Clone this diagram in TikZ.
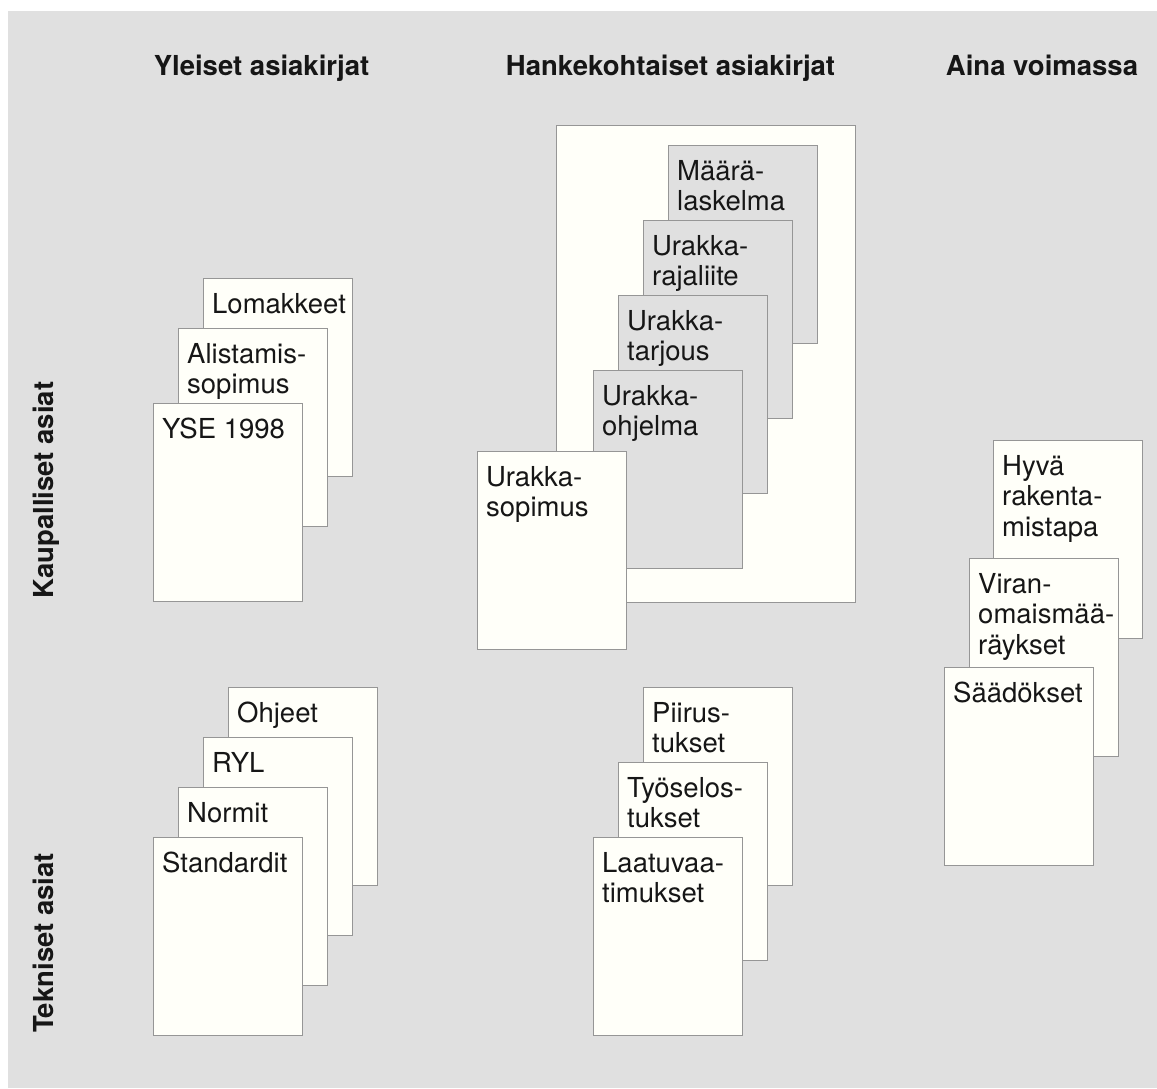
\documentclass[tikz,border=0pt]{standalone}
\usepackage{fontspec}
\setmainfont{TeX Gyre Heros}
\usepackage{xcolor}
\usepackage{tikz}
\definecolor{panel}{RGB}{224, 224, 224}
\definecolor{paper}{RGB}{255, 255, 249}
\definecolor{edge}{RGB}{150, 150, 150}
\definecolor{ink}{RGB}{22, 22, 22}

\begin{document}
\begin{tikzpicture}[x=1pt,y=-1pt,
  doc/.style={draw=edge,line width=1.2pt,fill=paper,anchor=north west,inner sep=0pt,
    minimum width=149pt,minimum height=198pt},
  graydoc/.style={doc,fill=panel},
  doclabel/.style={anchor=north west,align=left,inner xsep=9pt,inner ysep=15pt,text=ink,
    font=\fontsize{27.5}{30.5}\selectfont},
  head/.style={anchor=base,text=ink,font=\fontsize{27.5}{30}\selectfont\bfseries}]
\useasboundingbox (0,0) rectangle (1157,1088);
\fill[white] (0,0) rectangle (1157,1088);
\fill[panel] (8,11) rectangle (1157,1088);
% otsikot
\node[head] (hyleiset) at (261.5,75) {Yleiset asiakirjat};
\node[head] (hhanke) at (670.5,75) {Hankekohtaiset asiakirjat};
\node[head] (haina) at (1042,75) {Aina voimassa};
\node[head,rotate=90] (hkaup) at (53,490) {Kaupalliset asiat};
\node[head,rotate=90] (htekn) at (53,943) {Tekniset asiat};
% yleiset, kaupalliset
\node[doc,label={[doclabel]north west:Lomakkeet}] (lomakkeet) at (203,278) {};
\node[doc,label={[doclabel]north west:{Alistamis-\\sopimus}}] (alistamis) at (178,328) {};
\node[doc,label={[doclabel]north west:YSE 1998}] (yse) at (153,403) {};
% yleiset, tekniset
\node[doc,label={[doclabel]north west:Ohjeet}] (ohjeet) at (228,687) {};
\node[doc,label={[doclabel]north west:RYL}] (ryl) at (203,737) {};
\node[doc,label={[doclabel]north west:Normit}] (normit) at (178,787) {};
\node[doc,label={[doclabel]north west:Standardit}] (standardit) at (153,837) {};
% hankekohtaiset, kaupalliset
\node[doc,minimum width=299pt,minimum height=477pt] (kehys) at (556,125) {};
\node[graydoc,label={[doclabel]north west:{Määrä-\\laskelma}}] (maara) at (668,145) {};
\node[graydoc,label={[doclabel]north west:{Urakka-\\rajaliite}}] (rajaliite) at (643,220) {};
\node[graydoc,label={[doclabel]north west:{Urakka-\\tarjous}}] (tarjous) at (618,295) {};
\node[graydoc,label={[doclabel]north west:{Urakka-\\ohjelma}}] (ohjelma) at (593,370) {};
\node[doc,label={[doclabel]north west:{Urakka-\\sopimus}}] (sopimus) at (477,451) {};
% hankekohtaiset, tekniset
\node[doc,label={[doclabel]north west:{Piirus-\\tukset}}] (piirus) at (643,687) {};
\node[doc,label={[doclabel]north west:{Työselos-\\tukset}}] (tyoselos) at (618,762) {};
\node[doc,label={[doclabel]north west:{Laatuvaa-\\timukset}}] (laatu) at (593,837) {};
% aina voimassa
\node[doc,label={[doclabel]north west:{Hyvä\\rakenta-\\mistapa}}] (hyva) at (993,440) {};
\node[doc,label={[doclabel]north west:{Viran-\\omaismää-\\räykset}}] (viran) at (969,558) {};
\node[doc,label={[doclabel]north west:Säädökset}] (saadokset) at (944,667) {};
\end{tikzpicture}
\end{document}
